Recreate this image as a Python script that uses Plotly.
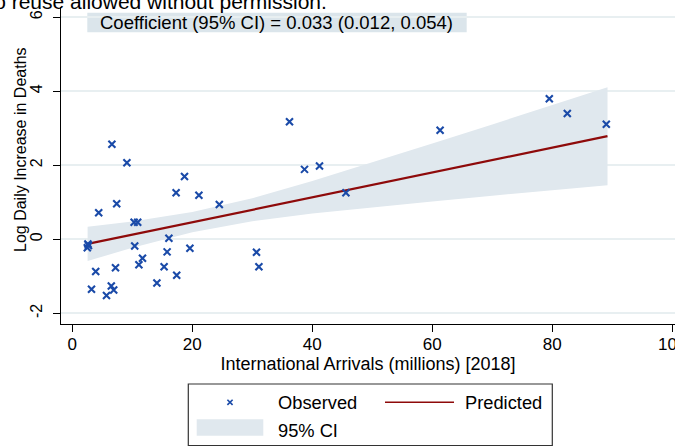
import plotly.graph_objects as go

# ---------------- data ----------------
obs_x = [6.6, 9.1, 18.7, 17.3, 21.1, 24.5, 7.4, 4.4, 10.3, 10.9,
         2.6, 2.5, 2.7, 10.4, 16.1, 19.6, 15.8, 11.7, 11.1, 15.3,
         7.2, 3.9, 17.4, 14.1, 3.2, 6.5, 6.9, 5.7, 30.7, 31.1,
         36.2, 38.7, 41.2, 45.6, 61.3, 79.5, 82.5, 89.0]
obs_y = [2.57, 2.07, 1.70, 1.26, 1.19, 0.94, 0.96, 0.72, 0.46, 0.46,
         -0.13, -0.23, -0.17, -0.18, 0.03, -0.24, -0.34, -0.51, -0.69, -0.74,
         -0.77, -0.87, -0.97, -1.18, -1.35, -1.26, -1.37, -1.52, -0.35, -0.74,
         3.18, 1.89, 1.98, 1.26, 2.95, 3.80, 3.40, 3.11]

fit_x = [2.55, 10, 20, 30, 40, 50, 60, 70, 80, 89.2]
fit_y = [-0.124, 0.126, 0.462, 0.798, 1.134, 1.470, 1.806, 2.142, 2.478, 2.787]
ci_lower = [-0.586, -0.230, 0.189, 0.487, 0.694, 0.866, 1.025, 1.178, 1.328, 1.464]
ci_upper = [0.338, 0.482, 0.735, 1.109, 1.574, 2.074, 2.587, 3.106, 3.628, 4.110]

x_ticks = [0, 20, 40, 60, 80, 100]
y_ticks = [-2, 0, 2, 4, 6]

coef_text = "Coefficient (95% CI) = 0.033 (0.012, 0.054)"
x_title = "International Arrivals (millions) [2018]"
y_title = "Log Daily Increase in Deaths"
watermark = "No reuse allowed without permission."
legend_labels = ["Observed", "Predicted", "95% CI"]

# ---------------- styling ----------------
W, H = 675, 446
ML, MR, MT, MB = 61, 0, 7, 122
PW, PH = W - ML - MR, H - MT - MB
FONT = "Liberation Sans, Arial, Helvetica, sans-serif"
BLUE = "#1a4aa8"
RED = "#8e0a0a"
BAND = "#e0e8ee"
BOXFILL = "#dbe5eb"
GRID = "#e8eff1"


def px(x):
    return (x - ML) / PW


def py(y):
    return (H - MB - y) / PH


fig = go.Figure()

fig.add_trace(go.Scatter(x=fit_x, y=ci_lower, mode="lines",
                         line=dict(width=0, color=BAND), showlegend=False,
                         hoverinfo="skip"))
fig.add_trace(go.Scatter(x=fit_x, y=ci_upper, mode="lines", fill="tonexty",
                         fillcolor=BAND, line=dict(width=0, color=BAND),
                         name=legend_labels[2], showlegend=False))
fig.add_trace(go.Scatter(x=fit_x, y=fit_y, mode="lines",
                         line=dict(color=RED, width=2.2),
                         name=legend_labels[1], showlegend=False))
fig.add_trace(go.Scatter(x=obs_x, y=obs_y, mode="markers",
                         marker=dict(symbol="x-thin", size=7,
                                     line=dict(color=BLUE, width=2.1)),
                         name=legend_labels[0], showlegend=False))

shapes = []
annotations = []

# coefficient box
shapes.append(dict(type="rect", xref="paper", yref="paper",
                   x0=px(87.3), x1=px(466.7), y0=py(32.3), y1=py(12.7),
                   fillcolor=BOXFILL, line=dict(width=0), layer="below"))
annotations.append(dict(text=coef_text, xref="paper", yref="paper",
                        x=px(276), y=py(22.0), xanchor="center", yanchor="middle",
                        showarrow=False, font=dict(size=18.5, color="black", family=FONT)))

# watermark (cropped)
annotations.append(dict(text=watermark, xref="paper", yref="paper",
                        x=px(329), y=py(1.5), xanchor="right", yanchor="middle",
                        showarrow=False, font=dict(size=21, color="black", family=FONT)))

# y-axis title
annotations.append(dict(text=y_title, xref="paper", yref="paper",
                        x=px(20), y=py(150), xanchor="center", yanchor="middle",
                        textangle=-90, showarrow=False,
                        font=dict(size=16, color="black", family=FONT)))

# legend box
shapes.append(dict(type="rect", xref="paper", yref="paper",
                   x0=px(188.3), x1=px(552.3), y0=py(445.5), y1=py(384),
                   line=dict(color="#333333", width=1.2), fillcolor="white"))
# observed symbol
shapes.append(dict(type="line", xref="paper", yref="paper",
                   x0=px(227.4), x1=px(232.6), y0=py(399.7), y1=py(404.9),
                   line=dict(color=BLUE, width=1.6)))
shapes.append(dict(type="line", xref="paper", yref="paper",
                   x0=px(227.4), x1=px(232.6), y0=py(404.9), y1=py(399.7),
                   line=dict(color=BLUE, width=1.6)))
# predicted line symbol
shapes.append(dict(type="line", xref="paper", yref="paper",
                   x0=px(385), x1=px(454), y0=py(402.3), y1=py(402.3),
                   line=dict(color=RED, width=1.6)))
# CI swatch
shapes.append(dict(type="rect", xref="paper", yref="paper",
                   x0=px(196.7), x1=px(263.3), y0=py(435.7), y1=py(419.3),
                   fillcolor=BAND, line=dict(width=0)))

for label, lx, ly in [(legend_labels[0], 275.7, 402.3),
                      (legend_labels[1], 463.3, 402.3),
                      (legend_labels[2], 275.7, 430.5)]:
    annotations.append(dict(text=label, xref="paper", yref="paper",
                            x=px(lx), y=py(ly), xanchor="left", yanchor="middle",
                            showarrow=False,
                            font=dict(size=18.3, color="black", family=FONT)))

fig.update_layout(
    width=W, height=H,
    margin=dict(l=ML, r=MR, t=MT, b=MB, pad=0),
    paper_bgcolor="white", plot_bgcolor="white",
    font=dict(family=FONT, color="black"),
    showlegend=False,
    shapes=shapes, annotations=annotations,
    xaxis=dict(range=[(ML - 72.3) / 6.0, (W - 72.3) / 6.0],
               tickvals=x_ticks, ticktext=[str(v) for v in x_ticks],
               ticks="outside", ticklen=7, tickwidth=1.2, tickcolor="black",
               showline=True, linecolor="black", linewidth=1.3,
               showgrid=False, zeroline=False,
               tickfont=dict(size=17, family=FONT),
               ticklabelstandoff=-3, ticklabeloverflow="allow",
               title=dict(text=x_title, font=dict(size=18, family=FONT), standoff=2),
               automargin=False),
    yaxis=dict(range=[(239.3 - (H - MB)) / 37.0, (239.3 - MT) / 37.0],
               tickvals=y_ticks, ticktext=[str(v) for v in y_ticks],
               tickangle=-90,
               ticks="outside", ticklen=7, tickwidth=1.2, tickcolor="black",
               showline=True, linecolor="black", linewidth=1.3,
               showgrid=True, gridcolor=GRID, gridwidth=1.5, zeroline=False,
               tickfont=dict(size=16, family=FONT),
               ticklabelstandoff=4, ticklabeloverflow="allow",
               automargin=False),
)

fig.write_html("out.html",
               config={"displayModeBar": False},
               post_script="document.body.style.margin='0';"
                           "document.body.style.overflow='hidden';")
